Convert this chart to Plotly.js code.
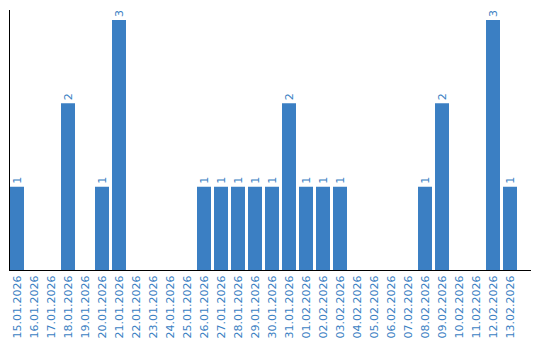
<!DOCTYPE html>
<html>
<head>
<meta charset="utf-8">
<script src="https://cdn.plot.ly/plotly-3.0.1.min.js"></script>
<style>html,body{margin:0;padding:0;background:#fff;}#chart{width:540px;height:340px;}</style>
</head>
<body>
<div id="chart"></div>
<script>
const dates = ["15.01.2026","16.01.2026","17.01.2026","18.01.2026","19.01.2026","20.01.2026","21.01.2026","22.01.2026","23.01.2026","24.01.2026","25.01.2026","26.01.2026","27.01.2026","28.01.2026","29.01.2026","30.01.2026","31.01.2026","01.02.2026","02.02.2026","03.02.2026","04.02.2026","05.02.2026","06.02.2026","07.02.2026","08.02.2026","09.02.2026","10.02.2026","11.02.2026","12.02.2026","13.02.2026"];
const counts = [1,0,0,2,0,1,3,0,0,0,0,1,1,1,1,1,2,1,1,1,0,0,0,0,1,2,0,0,3,1];
const labels = counts.map(v => v > 0 ? String(v) : "");

const blue = "#3b7fc3";
Plotly.newPlot("chart", [{
  type: "bar",
  x: dates,
  y: counts,
  text: labels,
  textposition: "outside",
  textangle: -90,
  cliponaxis: false,
  textfont: {family: "DejaVu Sans", size: 11, color: blue},
  marker: {color: blue},
  hoverinfo: "none"
}], {
  width: 540, height: 340,
  margin: {l: 10, r: 9, t: 10, b: 70},
  paper_bgcolor: "#fff", plot_bgcolor: "#fff",
  bargap: 0.1765,
  showlegend: false,
  font: {family: "DejaVu Sans", size: 11, color: blue},
  xaxis: {
    type: "category",
    range: [-0.412, 30.235],
    tickangle: -90,
    showline: true, linecolor: "#000", linewidth: 1,
    showgrid: false, zeroline: false, ticks: "",
    tickfont: {family: "DejaVu Sans", size: 11, color: blue}
  },
  yaxis: {
    range: [0, 3.12],
    showline: true, linecolor: "#000", linewidth: 1,
    showgrid: false, zeroline: false, ticks: "",
    showticklabels: false
  }
}, {displayModeBar: false, staticPlot: true});
</script>
</body>
</html>
